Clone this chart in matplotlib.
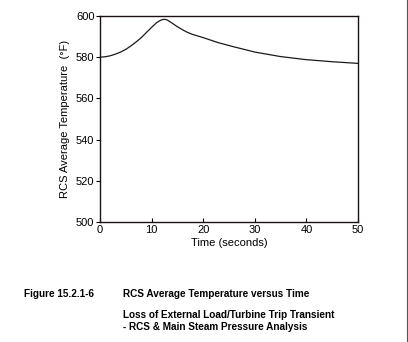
"""RCS average temperature versus time, loss of external load transient."""

import matplotlib
matplotlib.use("Agg")
import matplotlib.pyplot as plt

# Time (s) and RCS average temperature (F)
time_s = [0, 1, 2, 3, 4, 5, 6, 7, 8, 9, 10, 11, 11.5, 12, 12.5, 13, 14, 15, 16, 17,
          18, 20, 23, 26, 30, 35, 40, 45, 50]
temp_f = [580, 580.2, 580.7, 581.5, 582.5, 583.8, 585.5, 587.4, 589.5, 592, 594.5,
          596.8, 597.6, 598.2, 598.4, 598.1, 596.5, 594.8, 593.3, 592, 591, 589.5,
          587, 585, 582.5, 580.3, 578.8, 577.8, 577]

x_ticks = [0, 10, 20, 30, 40, 50]
y_ticks = [500, 520, 540, 560, 580, 600]

fig_label = "Figure 15.2.1-6"
caption_title = "RCS Average Temperature versus Time"
caption_sub = "Loss of External Load/Turbine Trip Transient\n- RCS & Main Steam Pressure Analysis"

plt.rcParams["font.family"] = ["Liberation Sans", "DejaVu Sans"]

W, H = 408, 342
fig = plt.figure(figsize=(W / 100, H / 100), dpi=100)
ax = fig.add_axes([100 / W, 1 - 222 / H, 258 / W, 206 / H])

ax.plot(time_s, temp_f, color="#1a1a1a", linewidth=0.9)

ax.set_xlim(0, 50)
ax.set_ylim(500, 600)
ax.set_xticks(x_ticks)
ax.set_yticks(y_ticks)
ax.tick_params(axis="x", direction="in", length=3, labelsize=8, pad=2)
ax.tick_params(axis="y", direction="out", length=3, labelsize=8, pad=1)
for s in ax.spines.values():
    s.set_linewidth(1.0)
    s.set_color("#1a1018")

ax.set_xlabel("Time (seconds)", fontsize=8, labelpad=2)
ax.set_ylabel("RCS Average Temperature  (\u00b0F)", fontsize=8, labelpad=4)

# caption block below the chart
fig.text(24 / W, 1 - 294 / H, fig_label, fontsize=7.2, fontweight="bold", va="center")
fig.text(123 / W, 1 - 294 / H, caption_title, fontsize=7.2, fontweight="bold", va="center")
fig.text(123 / W, 1 - 321 / H, caption_sub, fontsize=7.2, fontweight="bold", va="center",
         linespacing=1.15)

# page edge on the right
fig.add_artist(plt.Line2D([407 / W, 407 / W], [0, 1], transform=fig.transFigure,
                          color="#555555", linewidth=0.8))

fig.savefig("out.png", dpi=100)
